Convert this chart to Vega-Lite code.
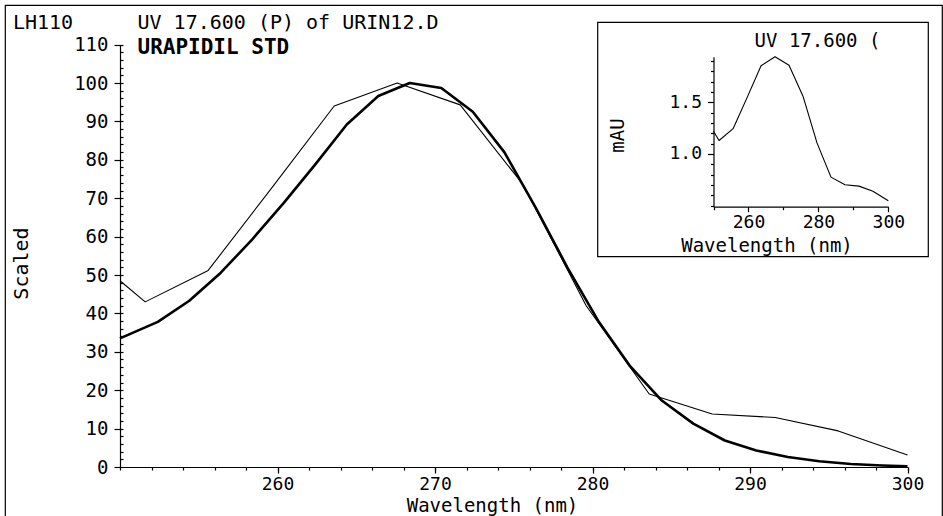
{
  "$schema": "https://vega.github.io/schema/vega-lite/v6.json",
  "width": 937,
  "height": 515,
  "autosize": {"type": "none"},
  "padding": {"left": 5, "top": 5, "right": 1, "bottom": 0},
  "background": "white",
  "config": {
    "view": {"stroke": "black", "strokeWidth": 1.2},
    "font": "DejaVu Sans Mono",
    "axis": {
      "grid": false,
      "domainColor": "black",
      "tickColor": "black",
      "labelColor": "black",
      "titleColor": "black",
      "labelFont": "DejaVu Sans Mono",
      "titleFont": "DejaVu Sans Mono",
      "labelFontSize": 19,
      "titleFontSize": 20,
      "titleFontWeight": "normal",
      "domainWidth": 1.2,
      "tickWidth": 1.2,
      "labelFlush": false,
      "labelOverlap": false,
      "labelBound": false,
      "zindex": 1
    }
  },
  "datasets": {
    "standard": [
      {"wavelength": 250, "scaled": 33.5},
      {"wavelength": 252.4, "scaled": 37.8},
      {"wavelength": 254.4, "scaled": 43.3},
      {"wavelength": 256.4, "scaled": 50.6},
      {"wavelength": 258.4, "scaled": 59.3},
      {"wavelength": 260.4, "scaled": 68.8},
      {"wavelength": 262.4, "scaled": 78.8},
      {"wavelength": 264.4, "scaled": 89.2},
      {"wavelength": 266.4, "scaled": 96.6},
      {"wavelength": 268.4, "scaled": 100},
      {"wavelength": 270.4, "scaled": 98.7},
      {"wavelength": 272.4, "scaled": 92.5},
      {"wavelength": 274.4, "scaled": 82.0},
      {"wavelength": 276.4, "scaled": 67.5},
      {"wavelength": 278.4, "scaled": 52.0},
      {"wavelength": 280.4, "scaled": 37.8},
      {"wavelength": 282.4, "scaled": 26.2},
      {"wavelength": 284.4, "scaled": 17.3},
      {"wavelength": 286.4, "scaled": 11.3},
      {"wavelength": 288.4, "scaled": 6.9},
      {"wavelength": 290.4, "scaled": 4.3},
      {"wavelength": 292.4, "scaled": 2.6},
      {"wavelength": 294.4, "scaled": 1.5},
      {"wavelength": 296.4, "scaled": 0.8},
      {"wavelength": 298.4, "scaled": 0.4},
      {"wavelength": 300, "scaled": 0.2}
    ],
    "sample": [
      {"wavelength": 250, "scaled": 48.5},
      {"wavelength": 251.6, "scaled": 43.0},
      {"wavelength": 255.6, "scaled": 51.2},
      {"wavelength": 259.6, "scaled": 72.5},
      {"wavelength": 263.6, "scaled": 94.0},
      {"wavelength": 267.6, "scaled": 100},
      {"wavelength": 271.6, "scaled": 94.3},
      {"wavelength": 275.6, "scaled": 73.5},
      {"wavelength": 279.6, "scaled": 42.0},
      {"wavelength": 283.6, "scaled": 19.0},
      {"wavelength": 287.6, "scaled": 13.8},
      {"wavelength": 291.6, "scaled": 12.9},
      {"wavelength": 295.6, "scaled": 9.4},
      {"wavelength": 300, "scaled": 3.1}
    ],
    "inset": [
      {"wavelength": 250, "mAU": 1.22},
      {"wavelength": 251.6, "mAU": 1.13},
      {"wavelength": 255.6, "mAU": 1.245},
      {"wavelength": 259.6, "mAU": 1.545},
      {"wavelength": 263.6, "mAU": 1.854},
      {"wavelength": 267.6, "mAU": 1.94},
      {"wavelength": 271.6, "mAU": 1.858},
      {"wavelength": 275.6, "mAU": 1.559},
      {"wavelength": 279.6, "mAU": 1.107},
      {"wavelength": 283.6, "mAU": 0.776},
      {"wavelength": 287.6, "mAU": 0.702},
      {"wavelength": 291.6, "mAU": 0.689},
      {"wavelength": 295.6, "mAU": 0.639},
      {"wavelength": 300, "mAU": 0.548}
    ],
    "box": [{"panel": "inset"}]
  },
  "resolve": {
    "scale": {"x": "independent", "y": "independent"},
    "axis": {"x": "independent", "y": "independent"}
  },
  "layer": [
    {
      "data": {"name": "standard"},
      "mark": {"type": "line", "color": "black", "strokeWidth": 2.6, "strokeJoin": "round"},
      "encoding": {
        "x": {
          "field": "wavelength", "type": "quantitative",
          "scale": {"domain": [250, 300], "range": [115, 902.5], "nice": false, "zero": false},
          "axis": {
            "orient": "bottom", "offset": -53,
            "values": [260, 270, 280, 290, 300],
            "tickSize": 6, "labelPadding": 2, "labelFontSize": 18,
            "title": "Wavelength (nm)", "titleFontSize": 19,
            "titleX": 487, "titleY": 38.5,
            "titleAlign": "center", "titleBaseline": "middle", "titleAngle": 0
          }
        },
        "y": {
          "field": "scaled", "type": "quantitative",
          "scale": {"domain": [0, 110], "range": [462, 39.6], "nice": false, "zero": false},
          "axis": {
            "orient": "left", "offset": -115,
            "values": [0, 10, 20, 30, 40, 50, 60, 70, 80, 90, 100, 110],
            "tickSize": 6, "labelPadding": 6, "labelBaseline": "middle",
            "title": "Scaled",
            "titleX": -98.5, "titleY": 258,
            "titleAngle": 270, "titleAlign": "center", "titleBaseline": "middle"
          }
        }
      }
    },
    {
      "data": {"name": "sample"},
      "mark": {"type": "line", "color": "black", "strokeWidth": 1.1, "strokeJoin": "round"},
      "encoding": {
        "x": {
          "field": "wavelength", "type": "quantitative",
          "scale": {"domain": [250, 300], "range": [115, 902.5], "nice": false, "zero": false},
          "axis": {
            "orient": "bottom", "offset": -53,
            "values": [250, 252, 254, 256, 258, 260, 262, 264, 266, 268, 270, 272, 274, 276, 278, 280, 282, 284, 286, 288, 290, 292, 294, 296, 298, 300],
            "labels": false, "domain": false, "tickSize": 3,
            "title": "UV 17.600 (P) of URIN12.D",
            "titleX": 132, "titleY": -445,
            "titleAlign": "left", "titleBaseline": "middle", "titleAngle": 0
          }
        },
        "y": {
          "field": "scaled", "type": "quantitative",
          "scale": {"domain": [0, 110], "range": [462, 39.6], "nice": false, "zero": false},
          "axis": {
            "orient": "left", "offset": -115,
            "values": [0, 2, 4, 6, 8, 10, 12, 14, 16, 18, 20, 22, 24, 26, 28, 30, 32, 34, 36, 38, 40, 42, 44, 46, 48, 50, 52, 54, 56, 58, 60, 62, 64, 66, 68, 70, 72, 74, 76, 78, 80, 82, 84, 86, 88, 90, 92, 94, 96, 98, 100, 102, 104, 106, 108, 110],
            "labels": false, "domain": false, "tickSize": -3,
            "title": "LH110",
            "titleX": -77.5, "titleY": 17,
            "titleAngle": 0, "titleAlign": "center", "titleBaseline": "middle"
          }
        }
      }
    },
    {
      "data": {"name": "sample"},
      "mark": {"type": "line", "opacity": 0},
      "encoding": {
        "x": {
          "field": "wavelength", "type": "quantitative",
          "scale": {"domain": [250, 300], "range": [115, 902.5], "nice": false, "zero": false},
          "axis": {
            "orient": "bottom", "offset": -53,
            "labels": false, "domain": false, "ticks": false,
            "title": "URAPIDIL STD",
            "titleFontWeight": "bold", "titleFontSize": 21,
            "titleX": 132, "titleY": -420,
            "titleAlign": "left", "titleBaseline": "middle", "titleAngle": 0
          }
        },
        "y": {
          "field": "scaled", "type": "quantitative",
          "scale": {"domain": [0, 110], "range": [462, 39.6], "nice": false, "zero": false},
          "axis": null
        }
      }
    },
    {
      "data": {"name": "box"},
      "mark": {"type": "rect", "filled": false, "stroke": "black", "strokeWidth": 1.2},
      "encoding": {
        "x": {
          "datum": 216.88, "type": "quantitative",
          "scale": {"domain": [250, 300], "range": [708.5, 883.3], "nice": false, "zero": false},
          "axis": null
        },
        "x2": {"datum": 311.44},
        "y": {
          "datum": 2.2737, "type": "quantitative",
          "scale": {"domain": [0.49, 1.94], "range": [201.7, 51.8], "nice": false, "zero": false},
          "axis": null
        },
        "y2": {"datum": 0.0063}
      }
    },
    {
      "data": {"name": "inset"},
      "mark": {"type": "line", "color": "black", "strokeWidth": 1.1, "strokeJoin": "round"},
      "encoding": {
        "x": {
          "field": "wavelength", "type": "quantitative",
          "scale": {"domain": [250, 300], "range": [708.5, 883.3], "nice": false, "zero": false},
          "axis": {
            "orient": "bottom", "offset": -313.3,
            "values": [260, 280, 300],
            "tickSize": 5, "labelPadding": 2, "labelFontSize": 18,
            "title": "Wavelength (nm)", "titleFontSize": 19,
            "titleX": 761.5, "titleY": 39,
            "titleAlign": "center", "titleBaseline": "middle", "titleAngle": 0
          }
        },
        "y": {
          "field": "mAU", "type": "quantitative",
          "scale": {"domain": [0.49, 1.94], "range": [201.7, 51.8], "nice": false, "zero": false},
          "axis": {
            "orient": "left", "offset": -708.5,
            "values": [1.0, 1.5], "format": ".1f",
            "tickSize": 6, "labelPadding": 6, "labelBaseline": "middle", "labelFontSize": 18,
            "title": "mAU", "titleFontSize": 19,
            "titleX": -96, "titleY": 130,
            "titleAngle": 270, "titleAlign": "center", "titleBaseline": "middle"
          }
        }
      }
    },
    {
      "data": {"name": "inset"},
      "mark": {"type": "line", "opacity": 0},
      "encoding": {
        "x": {
          "field": "wavelength", "type": "quantitative",
          "scale": {"domain": [250, 300], "range": [708.5, 883.3], "nice": false, "zero": false},
          "axis": {
            "orient": "bottom", "offset": -313.3,
            "values": [250, 270, 290],
            "labels": false, "domain": false, "tickSize": 3,
            "title": "UV 17.600 (", "titleFontSize": 19,
            "titleX": 812, "titleY": -166.7,
            "titleAlign": "center", "titleBaseline": "middle", "titleAngle": 0
          }
        },
        "y": {
          "field": "mAU", "type": "quantitative",
          "scale": {"domain": [0.49, 1.94], "range": [201.7, 51.8], "nice": false, "zero": false},
          "axis": {
            "orient": "left", "offset": -708.5,
            "values": [0.5, 0.6, 0.7, 0.8, 0.9, 1.1, 1.2, 1.3, 1.4, 1.6, 1.7, 1.8, 1.9],
            "labels": false, "domain": false, "tickSize": 3,
            "title": null
          }
        }
      }
    }
  ]
}
